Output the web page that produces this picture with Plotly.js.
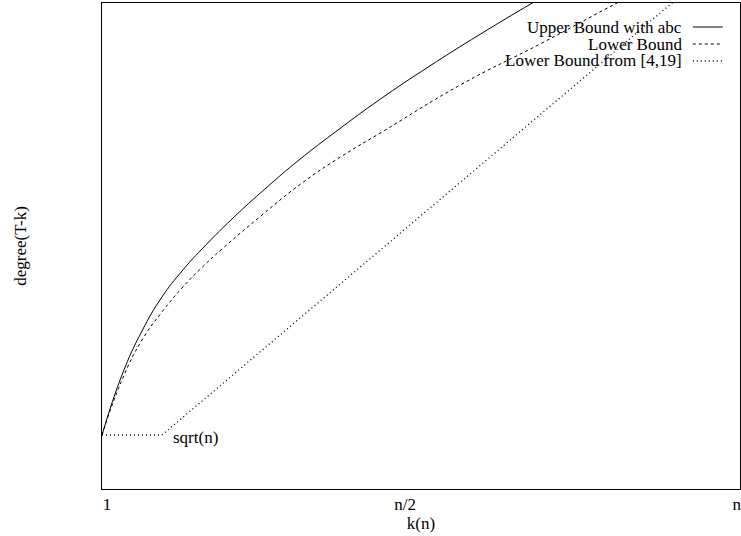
<!DOCTYPE html>
<html><head><meta charset="utf-8">
<script src="https://cdn.plot.ly/plotly-3.0.1.min.js"></script>
<style>html,body{margin:0;padding:0;background:#fff}#chart{width:741px;height:536px}</style>
</head><body><div id="chart"></div>
<script>
// Series names (legend entries)
const seriesNames = ["Upper Bound with abc", "Lower Bound", "Lower Bound from [4,19]"];

// x: k as a share of n (0..100), y: degree in relative units (0..100)
const upperX = [0, 3.13, 6.27, 9.40, 12.54, 15.67, 20.38, 25.71, 30.88, 37.15, 43.42, 51.25, 59.09, 67.40, 73.67];
const upperY = [11.11, 23.46, 32.51, 39.51, 44.86, 49.38, 55.56, 61.93, 67.70, 74.03, 80.04, 86.93, 93.42, 99.96, 104.73];

const lowerX = [0, 3.13, 6.27, 9.40, 12.54, 15.67, 18.81, 25.08, 31.35, 37.62, 43.89, 56.43, 68.97, 80.72, 86.99];
const lowerY = [11.11, 22.43, 30.66, 36.42, 41.36, 45.58, 49.38, 56.38, 62.96, 68.52, 73.46, 83.33, 91.77, 100.0, 104.12];

const citedX = [0, 9.40, 89.34, 95.61];
const citedY = [11.11, 11.11, 100.0, 107.0];

// Tick labels
const tickVals = [0.78, 47.5, 99.5];
const tickText = ["1", "n/2", "n"];

const bendLabel = "sqrt(n)";

const FONT = "Liberation Serif, Times New Roman, serif";
const dashes = ["solid", "3px,3px", "1px,3px"];
const widths = [1, 1, 1.3];
const xs = [upperX, lowerX, citedX];
const ys = [upperY, lowerY, citedY];
const shapesKind = ["spline", "spline", "linear"];

const traces = seriesNames.map((name, i) => ({
  type: "scatter", mode: "lines", name: name,
  x: xs[i], y: ys[i],
  line: {color: "#000", width: widths[i], dash: dashes[i], shape: shapesKind[i], smoothing: 1.3},
  showlegend: false, hoverinfo: "skip"
}));

// Gnuplot-style key: text right-aligned, line sample on the right
const rowY = [0.9506, 0.9156, 0.8807];
const annotations = seriesNames.map((name, i) => ({
  xref: "paper", yref: "paper", x: 0.9107, y: rowY[i],
  xanchor: "right", yanchor: "middle", text: name, showarrow: false, borderpad: 0,
  font: {family: FONT, size: 17, color: "#000"}
}));
annotations.push({
  xref: "x", yref: "y", x: citedX[1], y: citedY[1],
  xanchor: "left", yanchor: "middle", xshift: 9, yshift: -2,
  text: bendLabel, showarrow: false,
  font: {family: FONT, size: 17, color: "#000"}
});
const shapes = seriesNames.map((name, i) => ({
  type: "line", xref: "paper", yref: "paper",
  x0: 0.926, x1: 0.973, y0: rowY[i], y1: rowY[i],
  line: {color: "#000", width: widths[i], dash: dashes[i]}
}));

const layout = {
  width: 741, height: 536,
  margin: {l: 102, r: 1, t: 3, b: 47, pad: 0},
  paper_bgcolor: "#fff", plot_bgcolor: "#fff",
  font: {family: FONT, size: 17, color: "#000"},
  showlegend: false,
  xaxis: {
    range: [0, 100], showgrid: false, zeroline: false,
    showline: true, mirror: true, linecolor: "#000", linewidth: 1,
    ticks: "", tickvals: tickVals, ticktext: tickText,
    tickfont: {family: FONT, size: 17, color: "#000"},
    ticklabelstandoff: 0, ticklabeloverflow: "allow",
    title: {text: "k(n)", standoff: 0, font: {family: FONT, size: 17, color: "#000"}}
  },
  yaxis: {
    range: [0, 100], showgrid: false, zeroline: false,
    showline: true, mirror: true, linecolor: "#000", linewidth: 1,
    ticks: "", showticklabels: false,
    title: {text: "degree(T-k)", standoff: 70, font: {family: FONT, size: 17, color: "#000"}}
  },
  annotations: annotations,
  shapes: shapes
};

Plotly.newPlot("chart", traces, layout, {displayModeBar: false, staticPlot: true});
</script>
</body></html>
